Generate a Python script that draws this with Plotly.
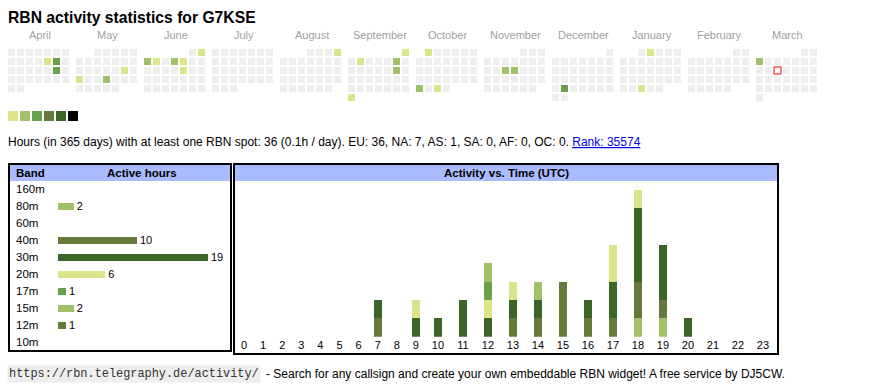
import datetime as dt
import plotly.graph_objects as go

W, H = 870, 390
FONT = "Liberation Sans, Arial, sans-serif"

# ---------------- data ----------------
PALETTE = ['#dbe38b', '#a0c16a', '#6aa04a', '#667b3b', '#3c6627', '#000000']
EMPTY = '#eeeeee'

month_names = ['April', 'May', 'June', 'July', 'August', 'September', 'October',
               'November', 'December', 'January', 'February', 'March']
month_years = [2024, 2024, 2024, 2024, 2024, 2024, 2024, 2024, 2024, 2025, 2025, 2025]
month_nums = [4, 5, 6, 7, 8, 9, 10, 11, 12, 1, 2, 3]

active_dates = ['2024-04-12', '2024-04-13', '2024-04-20', '2024-05-18', '2024-05-20',
                '2024-05-23', '2024-06-02', '2024-06-03', '2024-06-04', '2024-06-06',
                '2024-06-07', '2024-06-14', '2024-08-04', '2024-09-01', '2024-09-03',
                '2024-09-07', '2024-09-14', '2024-09-30', '2024-10-01', '2024-10-28',
                '2024-10-30', '2024-11-13', '2024-11-14', '2024-12-24', '2025-01-02',
                '2025-01-29', '2025-03-03']
active_levels = [1, 3, 3, 1, 1,
                 2, 1, 2, 1, 2,
                 1, 1, 1, 1, 1,
                 2, 2, 1, 1, 2,
                 1, 2, 2, 3, 1,
                 1, 2]
today = '2025-03-12'

bands = ['160m', '80m', '60m', '40m', '30m', '20m', '17m', '15m', '12m', '10m']
band_hours = [0, 2, 0, 10, 19, 6, 1, 2, 1, 0]
band_colors = [PALETTE[0], PALETTE[1], PALETTE[2], PALETTE[3], PALETTE[4],
               PALETTE[0], PALETTE[2], PALETTE[1], PALETTE[3], PALETTE[4]]

hour_labels = [str(h) for h in range(24)]
act_160m = [0] * 24
act_80m = [0, 0, 0, 0, 0, 0, 0, 0, 0, 0, 0, 0, 0, 0, 0, 0, 0, 0, 1, 1, 0, 0, 0, 0]
act_60m = [0] * 24
act_40m = [0, 0, 0, 0, 0, 0, 0, 1, 0, 0, 0, 0, 0, 1, 1, 2, 1, 1, 2, 1, 0, 0, 0, 0]
act_30m = [0, 0, 0, 0, 0, 0, 0, 1, 0, 1, 1, 2, 1, 1, 1, 0, 1, 2, 4, 3, 1, 0, 0, 0]
act_20m = [0, 0, 0, 0, 0, 0, 0, 0, 0, 1, 0, 0, 1, 1, 0, 0, 0, 2, 1, 0, 0, 0, 0, 0]
act_17m = [0, 0, 0, 0, 0, 0, 0, 0, 0, 0, 0, 0, 1, 0, 0, 0, 0, 0, 0, 0, 0, 0, 0, 0]
act_15m = [0, 0, 0, 0, 0, 0, 0, 0, 0, 0, 0, 0, 1, 0, 1, 0, 0, 0, 0, 0, 0, 0, 0, 0]
act_12m = [0, 0, 0, 0, 0, 0, 0, 0, 0, 0, 0, 0, 0, 0, 0, 1, 0, 0, 0, 0, 0, 0, 0, 0]
act_10m = [0] * 24
activity = [act_160m, act_80m, act_60m, act_40m, act_30m, act_20m,
            act_17m, act_15m, act_12m, act_10m]

stats_text = ('Hours (in 365 days) with at least one RBN spot: 36 (0.1h / day). '
              'EU: 36, NA: 7, AS: 1, SA: 0, AF: 0, OC: 0. ')
rank_text = 'Rank: 35574'
title_text = 'RBN activity statistics for G7KSE'
footer_url = 'https://rbn.telegraphy.de/activity/'
footer_text = '- Search for any callsign and create your own embeddable RBN widget! A free service by DJ5CW.'

# ---------------- layout constants (pixels) ----------------
CAL_X0, BLOCK_PITCH, CELL_PITCH, CAL_Y0, CELL = 8, 68, 9, 49, 7


def px_x(p):
    return p / W


def px_y(p):
    return 1 - p / H


fig = go.Figure()

# ---------------- calendar ----------------
level_of = dict(zip(active_dates, active_levels))
cx, cy, cc = [], [], []
today_xy = None
for m, (yr, mo) in enumerate(zip(month_years, month_nums)):
    first = dt.date(yr, mo, 1)
    nxt = dt.date(yr + (mo == 12), mo % 12 + 1, 1)
    off = first.weekday()
    d = first
    while d < nxt:
        idx = d.day - 1 + off
        col, row = idx % 7, idx // 7
        x = CAL_X0 + m * BLOCK_PITCH + col * CELL_PITCH + CELL / 2
        y = CAL_Y0 + row * CELL_PITCH + CELL / 2
        key = d.isoformat()
        cx.append(x)
        cy.append(y)
        cc.append(PALETTE[level_of[key] - 1] if key in level_of else EMPTY)
        if key == today:
            today_xy = (x, y)
        d += dt.timedelta(days=1)

fig.add_trace(go.Scatter(x=cx, y=cy, mode='markers', xaxis='x', yaxis='y',
                         marker=dict(symbol='square', size=CELL, color=cc, line=dict(width=0)),
                         hoverinfo='skip', showlegend=False))
fig.add_trace(go.Scatter(x=[today_xy[0]], y=[today_xy[1]], mode='markers', xaxis='x', yaxis='y',
                         marker=dict(symbol='square', size=CELL, color='white',
                                     line=dict(width=1, color='#ff0000')),
                         hoverinfo='skip', showlegend=False))

# palette legend
fig.add_trace(go.Scatter(x=[13 + 12 * i for i in range(len(PALETTE))], y=[116] * len(PALETTE),
                         mode='markers', xaxis='x', yaxis='y',
                         marker=dict(symbol='square', size=10, color=PALETTE, line=dict(width=0)),
                         hoverinfo='skip', showlegend=False))

annotations = []
for m, name in enumerate(month_names):
    annotations.append(dict(x=CAL_X0 + m * BLOCK_PITCH + 31.5, y=35, xref='x', yref='y',
                            text=name, showarrow=False, xanchor='center', yanchor='middle',
                            font=dict(family=FONT, size=11, color='#a0a0a0')))

# ---------------- band table ----------------
fig.add_trace(go.Bar(y=bands, x=band_hours, orientation='h', xaxis='x2', yaxis='y2',
                     marker=dict(color=band_colors, line=dict(width=0)), width=0.43,
                     text=[str(v) if v else '' for v in band_hours], textposition='outside',
                     constraintext='none',
                     textfont=dict(family=FONT, size=11, color='black'), cliponaxis=False,
                     hoverinfo='skip', showlegend=False))
for b in bands:
    annotations.append(dict(x=14, y=b, xref='x', yref='y2', text=b, showarrow=False,
                            xanchor='left', yanchor='middle',
                            font=dict(family=FONT, size=11.5, color='black')))

# ---------------- activity vs time ----------------
widths = [19.1 if len(h) == 1 else 25 for h in hour_labels]
centers = []
acc = 0
for w_ in widths:
    centers.append(acc + w_ / 2)
    acc += w_
total_w = acc
ACT_LEFT = 234.45

for b, col, vals in zip(bands, band_colors, activity):
    fig.add_trace(go.Bar(x=centers, y=vals, xaxis='x3', yaxis='y3', width=8, name=b,
                         marker=dict(color=col, line=dict(width=0)),
                         hoverinfo='skip', showlegend=False))

# ---------------- text ----------------
annotations += [
    dict(x=6, y=17, xref='x', yref='y', text='<b>' + title_text + '</b>', showarrow=False,
         xanchor='left', yanchor='middle', font=dict(family=FONT, size=15.7, color='black')),
    dict(x=6, y=142, xref='x', yref='y',
         text=stats_text + '<a href="https://rbn.telegraphy.de/activity/G7KSE" '
              'style="color:#0000ee"><u>' + rank_text + '</u></a>',
         showarrow=False, xanchor='left', yanchor='middle',
         font=dict(family=FONT, size=12, color='black')),
    dict(x=14, y=173, xref='x', yref='y', text='<b>Band</b>', showarrow=False,
         xanchor='left', yanchor='middle', font=dict(family=FONT, size=11.5, color='black')),
    dict(x=141.5, y=173, xref='x', yref='y', text='<b>Active hours</b>', showarrow=False,
         xanchor='center', yanchor='middle', font=dict(family=FONT, size=11.5, color='black')),
    dict(x=506, y=173, xref='x', yref='y', text='<b>Activity vs. Time (UTC)</b>', showarrow=False,
         xanchor='center', yanchor='middle', font=dict(family=FONT, size=11.5, color='black')),
    dict(x=7, y=374, xref='x', yref='y', text=footer_url, showarrow=False,
         xanchor='left', yanchor='middle', bgcolor='#eeeeee', borderpad=1,
         font=dict(family='Liberation Mono, Courier New, monospace', size=11.9, color='#333333')),
    dict(x=264, y=374, xref='x', yref='y', text=footer_text, showarrow=False,
         xanchor='left', yanchor='middle', font=dict(family=FONT, size=12, color='black')),
]

shapes = [
    # band table header + border
    dict(type='rect', xref='x', yref='y', x0=10, x1=230, y0=165, y1=181,
         fillcolor='#aabbff', line=dict(width=0), layer='below'),
    dict(type='rect', xref='x', yref='y', x0=9, x1=231, y0=164, y1=351,
         fillcolor='rgba(0,0,0,0)', line=dict(width=2, color='black'), layer='above'),
    # activity header + border
    dict(type='rect', xref='x', yref='y', x0=235, x1=777, y0=165, y1=181,
         fillcolor='#aabbff', line=dict(width=0), layer='below'),
    dict(type='rect', xref='x', yref='y', x0=234, x1=778, y0=164, y1=354,
         fillcolor='rgba(0,0,0,0)', line=dict(width=2, color='black'), layer='above'),
]

hidden = dict(visible=False, showgrid=False, zeroline=False, fixedrange=True)

fig.update_layout(
    width=W, height=H, margin=dict(l=0, r=0, t=0, b=0),
    paper_bgcolor='white', plot_bgcolor='rgba(0,0,0,0)',
    barmode='stack', showlegend=False, hovermode=False,
    font=dict(family=FONT, size=11, color='black'),
    xaxis=dict(domain=[0, 1], range=[0, W], **hidden),
    yaxis=dict(domain=[0, 1], range=[H, 0], **hidden),
    xaxis2=dict(domain=[px_x(58), px_x(208)], range=[0, 19], anchor='y2', **hidden),
    yaxis2=dict(domain=[px_y(350.8), px_y(180.8)], type='category', categoryarray=bands,
                categoryorder='array', range=[len(bands) - 0.5, -0.5], anchor='x2', **hidden),
    xaxis3=dict(domain=[px_x(ACT_LEFT), px_x(ACT_LEFT + total_w)], range=[0, total_w],
                anchor='y3', showgrid=False, zeroline=False, showline=False, ticks='',
                tickmode='array', tickvals=centers, ticktext=hour_labels,
                tickfont=dict(family=FONT, size=11, color='black'), fixedrange=True),
    yaxis3=dict(domain=[px_y(336.7), px_y(189.5)], range=[0, 8], anchor='x3', **hidden),
    annotations=annotations, shapes=shapes,
)

fig.write_html('out.html', config={'displayModeBar': False},
               post_script="document.body.style.margin='0';document.body.style.overflow='hidden';")
